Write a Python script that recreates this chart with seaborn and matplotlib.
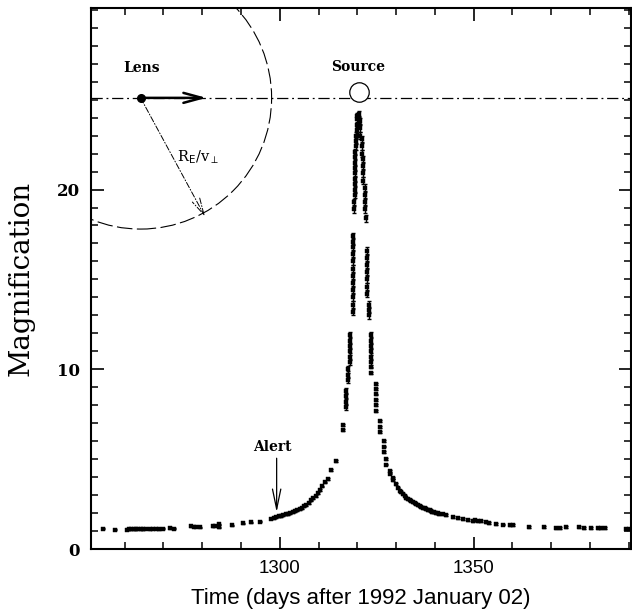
import numpy as np
import pandas as pd
import matplotlib
matplotlib.use("Agg")
import matplotlib.pyplot as plt
from matplotlib.patches import Ellipse
import seaborn as sns

# ---------------- data ----------------
time_days = [
    1254.4, 1257.6, 1260.5, 1261.2, 1261.6, 1262.3, 1262.8, 1263.5, 1264.1, 1264.8,
    1265.5, 1266.4, 1267.3, 1268.2, 1268.9, 1269.8, 1271.6, 1272.6, 1277.2, 1277.8,
    1278.5, 1279.4, 1282.7, 1283.3, 1284.3, 1284.4, 1287.6, 1290.5, 1292.7, 1294.8,
    1297.8, 1298.5, 1299.1,
    1299.7, 1300.3, 1300.9, 1301.5, 1302.1, 1302.7, 1303.3, 1303.9, 1304.5, 1305.1,
    1305.7, 1306.3, 1306.9, 1307.5, 1308.1, 1308.7, 1309.3, 1309.9, 1310.5, 1311.0,
    1311.6, 1312.4, 1313.3, 1314.4, 1316.2, 1316.3,
    1317.1, 1317.1, 1317.1, 1317.1,
    1317.7, 1317.7, 1317.7,
    1318.1, 1318.1, 1318.1, 1318.1, 1318.1, 1318.1,
    1318.8, 1318.8, 1318.8, 1318.8, 1318.8, 1318.8, 1318.8, 1318.8, 1318.8, 1318.8, 1318.8, 1318.8,
    1319.2, 1319.2,
    1319.4, 1319.4, 1319.4, 1319.4, 1319.4, 1319.4, 1319.4, 1319.4, 1319.4,
    1319.7, 1319.7, 1319.7,
    1320.0, 1320.0, 1320.0, 1320.0,
    1320.4, 1320.4, 1320.4,
    1320.8, 1320.8, 1320.8,
    1321.2, 1321.2, 1321.2,
    1321.6, 1321.6, 1321.6, 1321.6,
    1321.9, 1321.9, 1321.9, 1321.9,
    1322.2,
    1322.5, 1322.5, 1322.5, 1322.5, 1322.5, 1322.5, 1322.5,
    1322.9, 1322.9, 1322.9,
    1323.5, 1323.5, 1323.5, 1323.5, 1323.5, 1323.5, 1323.5, 1323.5,
    1324.8, 1324.8, 1324.8, 1324.8, 1324.8, 1324.8,
    1325.9, 1325.9, 1325.9,
    1326.9, 1326.9, 1326.9,
    1327.5, 1327.5,
    1328.4, 1328.4,
    1329.2, 1329.2,
    1330.1, 1330.5, 1330.9, 1331.4, 1331.8, 1332.2, 1332.7, 1333.1, 1333.5, 1333.9,
    1334.3, 1334.8, 1335.2, 1335.7, 1336.1, 1336.5, 1336.9, 1337.4, 1337.8, 1338.2,
    1338.7, 1339.0, 1339.4, 1339.9, 1340.4, 1340.8, 1341.2, 1342.1, 1343.0, 1344.7,
    1346.0, 1347.2, 1348.5, 1349.8, 1350.4, 1351.1, 1352.0, 1353.3, 1354.1, 1355.9,
    1357.6, 1359.3, 1360.1, 1364.4, 1368.3, 1371.3, 1372.2, 1373.9, 1377.3, 1378.4,
    1380.3, 1382.0, 1383.0, 1384.0, 1389.3, 1390.2,
]
magnification = [
    1.13, 1.08, 1.08, 1.10, 1.09, 1.11, 1.10, 1.12, 1.10, 1.11,
    1.12, 1.10, 1.12, 1.13, 1.11, 1.12, 1.17, 1.14, 1.27, 1.24,
    1.24, 1.22, 1.27, 1.30, 1.38, 1.22, 1.33, 1.43, 1.50, 1.52,
    1.68, 1.72, 1.78,
    1.82, 1.85, 1.88, 1.92, 1.95, 2.00, 2.05, 2.10, 2.16, 2.22,
    2.30, 2.38, 2.47, 2.58, 2.70, 2.83, 2.97, 3.12, 3.30, 3.48,
    3.70, 3.90, 4.40, 4.90, 6.60, 6.90,
    7.9, 8.2, 8.5, 8.8,
    9.4, 9.7, 10.0,
    10.4, 10.7, 11.0, 11.3, 11.6, 11.9,
    13.2, 13.6, 14.0, 14.4, 14.8, 15.2, 15.6, 16.0, 16.4, 16.8, 17.1, 17.4,
    18.9, 19.3,
    19.7, 20.0, 20.3, 20.6, 20.9, 21.2, 21.5, 21.8, 22.1,
    22.4, 22.7, 23.0,
    23.3, 23.6, 23.9, 24.1,
    24.2, 23.9, 23.6,
    23.8, 23.4, 23.0,
    22.8, 22.4, 22.0,
    21.7, 21.3, 20.9, 20.5,
    20.1, 19.7, 19.3, 18.9,
    18.4,
    16.6, 16.2, 15.8, 15.4, 15.0, 14.6, 14.2,
    13.6, 13.3, 13.0,
    11.9, 11.6, 11.3, 11.0, 10.7, 10.4, 10.1, 9.8,
    9.2, 8.9, 8.6, 8.3, 8.0, 7.7,
    7.1, 6.8, 6.5,
    6.0, 5.7, 5.4,
    5.0, 4.7,
    4.35, 4.2,
    3.95, 3.85,
    3.63, 3.42, 3.23, 3.15, 3.07, 2.95, 2.84, 2.78, 2.73, 2.67,
    2.62, 2.56, 2.51, 2.45, 2.40, 2.34, 2.29, 2.26, 2.23, 2.19,
    2.16, 2.12, 2.08, 2.04, 2.01, 1.98, 1.95, 1.92, 1.88, 1.78,
    1.71, 1.67, 1.62, 1.58, 1.59, 1.54, 1.56, 1.49, 1.45, 1.38,
    1.36, 1.34, 1.32, 1.23, 1.24, 1.17, 1.19, 1.23, 1.21, 1.19,
    1.19, 1.17, 1.18, 1.17, 1.12, 1.10,
]
errors = [0.03] * 33 + [0.05] * 26 + [0.18] * (len(time_days) - 59 - 76) + [0.05] * 76

x_ticks_major = [1300, 1350]
y_ticks_major = [0, 10, 20]

lens_t, lens_A = 1264.1, 25.1
source_t, source_A = 1320.5, 25.45
velocity_tip_t = 1281.1
radius_tip = (1280.7, 18.5)
einstein_rx, einstein_ry = 33.8, 7.3
alert_t, alert_top, alert_tip = 1299.2, 5.05, 2.05

df = pd.DataFrame({"t": time_days, "A": magnification, "err": errors})

# ---------------- figure ----------------
sns.set_theme(style="ticks")
plt.rcParams["font.family"] = ["DejaVu Serif"]
plt.rcParams["text.color"] = "black"
plt.rcParams["axes.labelcolor"] = "black"
plt.rcParams["xtick.color"] = "black"
plt.rcParams["ytick.color"] = "black"

fig = plt.figure(figsize=(6.32, 6.11), dpi=100)
ax = fig.add_axes([91 / 632, 1 - 549 / 611, 539.5 / 632, 541 / 611])

ax.errorbar(df["t"], df["A"], yerr=df["err"], fmt="none", ecolor="black",
            elinewidth=1.0, capsize=1.2, capthick=1.0, zorder=3)
sns.scatterplot(data=df, x="t", y="A", ax=ax, marker="s", s=5, color="black",
                edgecolor="black", linewidth=0.3, zorder=4, legend=False)

ax.set_xlim(1251.3, 1390.5)
ax.set_ylim(0, 30.1)

ax.set_xticks(x_ticks_major)
ax.set_xticks(np.arange(1260, 1391, 10), minor=True)
ax.set_yticks(y_ticks_major)
ax.set_yticks(np.arange(0, 31, 1), minor=True)
ax.tick_params(which="both", direction="in", top=True, right=True, color="black",
               labelcolor="black")
ax.tick_params(which="major", length=9, width=1.2, labelsize=12, pad=8)
ax.tick_params(which="minor", length=5, width=1.1)
for lab in ax.get_xticklabels():
    lab.set_fontfamily("Liberation Sans")
    lab.set_fontsize(13.5)
for lab in ax.get_yticklabels():
    lab.set_fontweight("semibold")
for sp in ax.spines.values():
    sp.set_linewidth(1.5)
    sp.set_color("black")

ax.set_xlabel("Time (days after 1992 January 02)", family="Liberation Sans",
              fontsize=16, labelpad=8, color="black")
ax.set_ylabel("Magnification", fontsize=20, labelpad=16, color="black")

# horizontal path line (dash-dot)
ax.axhline(lens_A, color="black", lw=0.9, linestyle=(0, (9, 3, 1.5, 3)), zorder=2)

# Einstein ring (dashed circle around lens)
ring = Ellipse((lens_t, lens_A), 2 * einstein_rx, 2 * einstein_ry, fill=False,
               edgecolor="black", lw=0.8, linestyle=(0, (14, 4)), zorder=2)
ax.add_patch(ring)

# lens dot and velocity arrow
ax.plot([lens_t], [lens_A], marker="o", markersize=5.5, color="black", zorder=5)
ax.annotate("", xy=(velocity_tip_t, lens_A), xytext=(lens_t, lens_A),
            arrowprops=dict(arrowstyle="->,head_length=1.1,head_width=0.3",
                            lw=1.8, color="black", shrinkA=0, shrinkB=0))
# radius arrow
ax.annotate("", xy=radius_tip, xytext=(lens_t, lens_A),
            arrowprops=dict(arrowstyle="->,head_length=1.0,head_width=0.25",
                            lw=0.7, color="black", linestyle=(0, (6, 2, 1, 2)),
                            shrinkA=0, shrinkB=0))
# source circle
ax.plot([source_t], [source_A], marker="o", markersize=14, markerfacecolor="white",
        markeredgecolor="black", markeredgewidth=0.9, zorder=5)

ax.text(lens_t + 0.2, 26.75, "Lens", ha="center", va="center", fontsize=10,
        fontweight="bold")
ax.text(source_t - 0.2, 26.8, "Source", ha="center", va="center", fontsize=10,
        fontweight="bold")
ax.text(1279.0, 21.8, r"R$_{\rm E}$/v$_{\perp}$", ha="center", va="center",
        fontsize=10.5)
ax.text(1298.1, 5.65, "Alert", ha="center", va="center", fontsize=10,
        fontweight="bold")
ax.annotate("", xy=(alert_t, alert_tip), xytext=(alert_t, alert_top),
            arrowprops=dict(arrowstyle="->,head_length=1.2,head_width=0.25",
                            lw=0.9, color="black", shrinkA=0, shrinkB=0))

fig.savefig("out.png", dpi=100)
